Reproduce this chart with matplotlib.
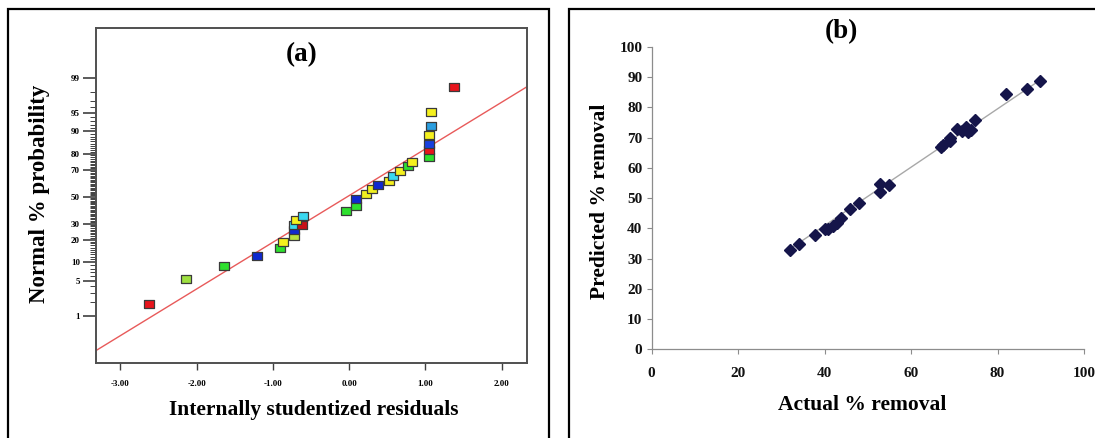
import numpy as np
import matplotlib
matplotlib.use('Agg')
import matplotlib.pyplot as plt
from matplotlib.patches import Rectangle
from statistics import NormalDist

plt.rcParams['font.family'] = ['Liberation Serif', 'DejaVu Serif']
plt.rcParams['font.weight'] = 'bold'

# (a) normal probability plot of residuals
resid = [-2.63, -2.14, -1.64, -1.21, -0.91, -0.87, -0.72, -0.72, -0.72, -0.62,
         -0.69, -0.60, -0.04, 0.09, 0.09, 0.22, 0.30, 0.38, 0.52, 0.57,
         0.67, 0.77, 0.82, 1.05, 1.05, 1.05, 1.05, 1.07, 1.08, 1.38]
prob = [1.75, 5.3, 8.7, 12.1, 15.6, 18.7, 22.1, 25.5, 28.7, 29.2,
        32.2, 35.2, 38.9, 42.5, 48.4, 52.1, 55.7, 59.0, 62.0, 65.7,
        69.0, 72.4, 75.1, 78.1, 82.0, 84.9, 88.5, 91.7, 95.1, 98.4]
pt_colors = ['#e8141c', '#9ee040', '#2ee02e', '#1028d0', '#2ee02e', '#f5f01e',
             '#b8e040', '#1028d0', '#3ad8f0', '#c81018', '#f5f01e', '#3ad8f0',
             '#2ee02e', '#2ee02e', '#1028d0', '#f0f020', '#f0f020', '#1028d0',
             '#f5f01e', '#3ad8f0', '#f5f01e', '#2ee02e', '#f5f01e', '#2ee02e',
             '#e8141c', '#1840e0', '#f5f01e', '#2a9ee0', '#f5f01e', '#e8141c']
fit_a_x = [-3.32, 2.33]
fit_a_p = [0.13, 98.42]
prob_ticks = [1, 5, 10, 20, 30, 50, 70, 80, 90, 95, 99]
res_ticks = [-3, -2, -1, 0, 1, 2]

# (b) predicted vs actual
actual = [32.0, 34.0, 37.9, 40.0, 40.9, 41.9, 42.9, 43.9, 46.0, 48.0, 52.9, 52.9, 54.9,
          66.9, 67.3, 68.9, 68.9, 70.7, 71.8, 72.7, 73.2, 73.8, 74.8, 82.0, 86.9, 89.9]
predicted = [33.0, 34.7, 37.8, 39.8, 39.8, 40.8, 41.8, 43.3, 46.3, 48.5, 51.9, 54.8, 54.2,
             66.8, 67.5, 68.9, 69.8, 73.0, 72.3, 73.4, 72.0, 72.6, 76.0, 84.6, 86.1, 88.9]
fit_b_x = [32, 90]
fit_b_y = [33.2, 89.2]

nd = NormalDist()
_fwd = np.vectorize(lambda p: nd.inv_cdf(min(max(p / 100.0, 1e-12), 1 - 1e-12)))
_inv = np.vectorize(lambda z: nd.cdf(z) * 100.0)

fig = plt.figure(figsize=(10.95, 4.38), dpi=100)

# outer frames
for x0, x1 in [(0.0071, 0.501), (0.5196, 1.2)]:
    fig.add_artist(Rectangle((x0, -0.2), x1 - x0, 0.2 + 0.9788, transform=fig.transFigure,
                             fill=False, ec='black', lw=1.6))

# ---- panel (a)
ax = fig.add_axes([0.0876, 0.1705, 0.3935, 0.7655])
ax.set_yscale('function', functions=(_fwd, _inv))
rect = [(-1.3, -1), (1.3, -1), (1.3, 1), (-1.3, 1), (-1.3, -1)]
ax.plot(fit_a_x, fit_a_p, color='#e85a5a', lw=1.0, zorder=2)
for x, p, c in zip(resid, prob, pt_colors):
    ax.plot(x, p, marker=rect, ms=6.8, mfc=c, mec='#3a3a3a', mew=0.9, ls='none', zorder=3)
ax.set_xlim(-3.32, 2.33)
ax.set_ylim(_inv(-3.26), _inv(3.30))
ax.set_xticks(res_ticks)
ax.set_xticklabels([f'{v:.2f}' for v in res_ticks], fontsize=6.5)
ax.set_yticks(prob_ticks)
ax.set_yticklabels([str(v) for v in prob_ticks], fontsize=6.5)
ax.set_yticks(list(range(2, 99)), minor=True)
ax.yaxis.set_minor_formatter(plt.NullFormatter())
ax.tick_params(axis='y', which='major', length=9.5, width=1.2, color='#404040', pad=2)
ax.tick_params(axis='y', which='minor', length=4, width=0.7, color='#404040')
ax.tick_params(axis='x', which='major', length=5, width=1.0, color='#404040', pad=7)
for s in ax.spines.values():
    s.set_color('#505050')
    s.set_linewidth(1.4)
fig.text(301.5 / 1095, 1 - 55 / 438, '(a)', fontsize=19.5, fontweight='bold', ha='center', va='center')
fig.text(314 / 1095, 1 - 410 / 438, 'Internally studentized residuals', fontsize=15.5,
         fontweight='bold', ha='center', va='center')
fig.text(39.5 / 1095, 1 - 194 / 438, 'Normal % probability', fontsize=16.5, fontweight='bold',
         ha='center', va='center', rotation=90)

# ---- panel (b)
bx = fig.add_axes([0.595, 0.2025, 0.395, 0.6902])
bx.plot(fit_b_x, fit_b_y, color='#a8a8a8', lw=1.0, zorder=2)
bx.plot(actual, predicted, 'D', ms=6.0, color='#15154a', zorder=3)
bx.set_xlim(0, 100)
bx.set_ylim(0, 100)
bx.set_xticks(range(0, 101, 20))
bx.set_yticks(range(0, 101, 10))
bx.tick_params(axis='both', colors='#8c8c8c', labelcolor='#111111', labelsize=11, length=3.5, width=0.8)
bx.tick_params(axis='x', pad=9)
bx.tick_params(axis='y', pad=3)
for lab in bx.get_xticklabels() + bx.get_yticklabels():
    lab.set_fontweight('bold')
for s in ['top', 'right']:
    bx.spines[s].set_visible(False)
for s in ['left', 'bottom']:
    bx.spines[s].set_color('#8c8c8c')
    bx.spines[s].set_linewidth(0.9)
fig.text(841 / 1095, 1 - 32 / 438, '(b)', fontsize=19.5, fontweight='bold', ha='center', va='center')
fig.text(862 / 1095, 1 - 405 / 438, 'Actual % removal', fontsize=15.5, fontweight='bold',
         ha='center', va='center')
fig.text(600 / 1095, 1 - 201.7 / 438, 'Predicted % removal', fontsize=15.5, fontweight='bold',
         ha='center', va='center', rotation=90)

fig.savefig('out.png', dpi=100)
